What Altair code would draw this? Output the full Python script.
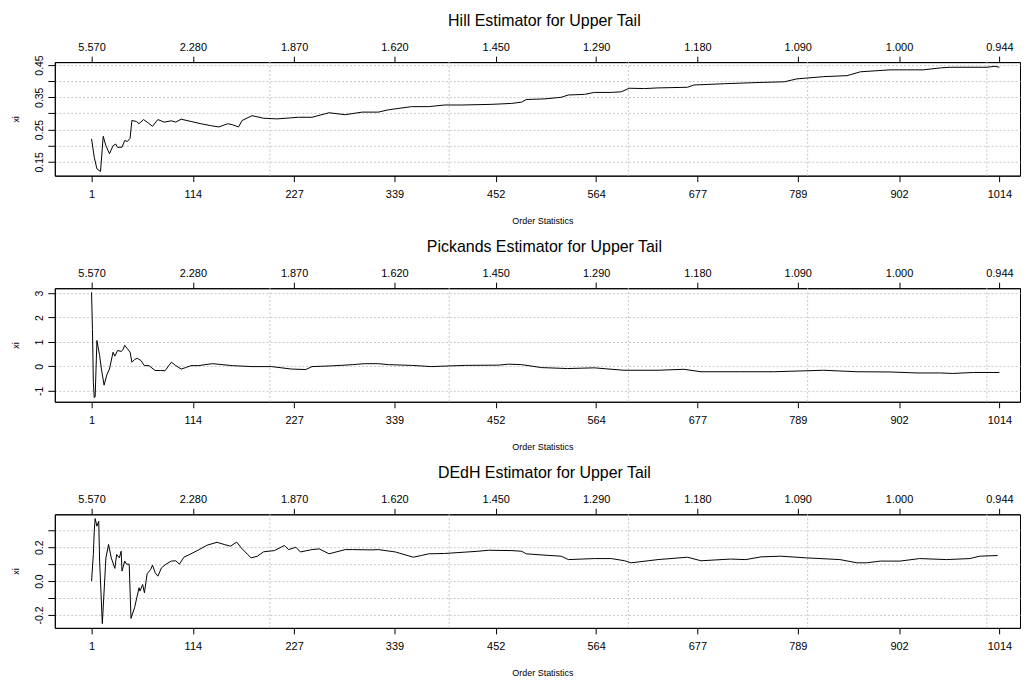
import altair as alt
import pandas as pd

FONT = "Liberation Sans"

# ---- axis tick positions / labels ----
tick_k = [1, 114, 227, 339, 452, 564, 677, 789, 902, 1014]
tick_thr = ["5.570", "2.280", "1.870", "1.620", "1.450", "1.290", "1.180", "1.090", "1.000", "0.944"]
grid_k = [200, 400, 600, 800, 1000]
x_domain = [-40, 1037]

# ---- Hill estimator ----
hill_k = [1, 4, 7, 11, 14, 17, 21, 25, 28, 30, 35, 38, 41, 44, 46, 51, 54, 59, 64, 69, 75, 82, 90, 95,
          101, 112, 123, 134, 143, 153, 158, 165, 169, 180, 193, 208, 232, 247, 266, 284, 303, 321,
          332, 358, 377, 395, 414, 447, 470, 481, 486, 507, 525, 533, 551, 562, 581, 592, 601, 618,
          633, 666, 673, 707, 748, 774, 788, 818, 844, 859, 892, 929, 948, 959, 1000, 1009, 1014]
hill_xi = [0.221, 0.164, 0.128, 0.120, 0.229, 0.200, 0.175, 0.200, 0.205, 0.195, 0.195, 0.216, 0.213,
           0.223, 0.278, 0.275, 0.268, 0.281, 0.271, 0.260, 0.281, 0.273, 0.277, 0.273, 0.282, 0.275,
           0.268, 0.262, 0.258, 0.268, 0.265, 0.258, 0.278, 0.293, 0.285, 0.283, 0.288, 0.288, 0.302,
           0.296, 0.304, 0.304, 0.311, 0.321, 0.321, 0.326, 0.326, 0.328, 0.331, 0.335, 0.343, 0.345,
           0.350, 0.357, 0.359, 0.365, 0.365, 0.367, 0.378, 0.377, 0.379, 0.381, 0.388, 0.392, 0.396,
           0.398, 0.407, 0.414, 0.417, 0.429, 0.435, 0.435, 0.441, 0.443, 0.443, 0.446, 0.443]
hill_ydom = [0.107, 0.459]
hill_yticks = [0.15, 0.20, 0.25, 0.30, 0.35, 0.40, 0.45]
hill_ylabels = [0.15, 0.25, 0.35, 0.45]

# ---- Pickands estimator ----
pick_k = [1, 2, 3, 4, 5, 7, 10, 12, 15, 18, 21, 25, 27, 30, 34, 36, 38, 41, 44, 46, 49, 52, 56, 60,
          65, 72, 78, 83, 90, 95, 101, 106, 112, 120, 136, 158, 180, 202, 224, 240, 247, 269, 292,
          306, 321, 332, 358, 380, 418, 455, 466, 481, 503, 532, 562, 595, 633, 662, 681, 725, 762,
          818, 855, 892, 922, 948, 962, 985, 1014]
pick_xi = [3.03, 1.50, -0.66, -1.28, -1.25, 1.06, 0.44, -0.11, -0.77, -0.35, -0.11, 0.58, 0.42, 0.65,
           0.61, 0.68, 0.86, 0.72, 0.58, 0.17, 0.28, 0.33, 0.24, 0.03, 0.03, -0.17, -0.17, -0.18, 0.17,
           0.03, -0.11, -0.05, 0.03, 0.03, 0.11, 0.03, -0.01, -0.01, -0.11, -0.13, -0.01, 0.02, 0.07,
           0.11, 0.11, 0.07, 0.04, -0.01, 0.04, 0.05, 0.09, 0.07, -0.05, -0.09, -0.06, -0.16, -0.16,
           -0.12, -0.22, -0.22, -0.22, -0.16, -0.22, -0.23, -0.27, -0.27, -0.29, -0.25, -0.25]
pick_ydom = [-1.45, 3.2]
pick_yticks = [-1, 0, 1, 2, 3]
pick_ylabels = [-1, 0, 1, 2, 3]

# ---- DEdH estimator ----
dedh_k = [1, 3, 4, 5, 7, 9, 10, 13, 15, 17, 20, 23, 27, 29, 32, 34, 35, 38, 40, 43, 45, 49, 54, 55,
          58, 60, 63, 67, 69, 72, 75, 79, 84, 90, 95, 99, 104, 112, 121, 130, 141, 149, 156, 163,
          168, 179, 186, 193, 205, 216, 221, 229, 234, 247, 255, 266, 284, 292, 314, 321, 340, 360,
          369, 377, 395, 418, 432, 444, 470, 481, 486, 507, 525, 533, 562, 581, 596, 603, 622, 633,
          666, 681, 714, 731, 748, 770, 799, 836, 855, 866, 881, 903, 925, 955, 981, 992, 1012]
dedh_xi = [0.0, 0.157, 0.294, 0.369, 0.324, 0.353, 0.118, -0.251, -0.059, 0.137, 0.216, 0.137, 0.075,
           0.157, 0.137, 0.176, 0.059, 0.118, 0.100, 0.100, -0.220, -0.157, -0.039, -0.059, -0.020,
           -0.069, 0.043, 0.069, 0.094, 0.049, 0.029, 0.078, 0.100, 0.118, 0.120, 0.100, 0.141, 0.161,
           0.186, 0.212, 0.229, 0.216, 0.206, 0.230, 0.196, 0.137, 0.147, 0.173, 0.180, 0.210, 0.186,
           0.200, 0.172, 0.186, 0.190, 0.161, 0.186, 0.186, 0.184, 0.186, 0.172, 0.141, 0.151, 0.161,
           0.163, 0.171, 0.176, 0.182, 0.180, 0.176, 0.161, 0.153, 0.147, 0.127, 0.133, 0.133, 0.120,
           0.108, 0.120, 0.127, 0.141, 0.120, 0.130, 0.127, 0.143, 0.147, 0.137, 0.127, 0.108, 0.108,
           0.118, 0.118, 0.133, 0.127, 0.133, 0.147, 0.151]
dedh_ydom = [-0.276, 0.394]
dedh_yticks = [-0.2, -0.1, 0.0, 0.1, 0.2, 0.3]
dedh_ylabels = [-0.2, 0.0, 0.2]

titles = ["Hill Estimator for Upper Tail", "Pickands Estimator for Upper Tail",
          "DEdH Estimator for Upper Tail"]

PW, PH = 969, 114

top_expr = " : ".join(
    f"datum.value == {k} ? '{t}'" for k, t in zip(tick_k, tick_thr)) + " : ''"


def panel(title, ks, xs_, ydom, yticks, ylabels, fmt):
    df = pd.DataFrame({"k": ks, "xi": xs_})
    xsc = alt.Scale(domain=x_domain, nice=False, zero=False)
    ysc = alt.Scale(domain=ydom, nice=False, zero=False)
    shown = "[" + ",".join(str(v) for v in ylabels) + "]"
    ylab_expr = (f"indexof({shown}, datum.value) >= 0 ? "
                 f"replace(format(datum.value, '{fmt}'), '\u2212', '-') : ''")

    grid = alt.Chart(pd.DataFrame({"k": grid_k})).mark_rule(
        color="#c8c8c8", strokeDash=[2, 2], strokeWidth=1
    ).encode(x=alt.X("k:Q", scale=xsc, axis=None))

    line = alt.Chart(df).mark_line(color="black", strokeWidth=1, clip=True).encode(
        x=alt.X("k:Q", scale=xsc, axis=alt.Axis(
            orient="bottom", values=tick_k, format="d", title="Order Statistics",
            grid=False, tickSize=6, labelPadding=7, labelFontSize=11, labelFont=FONT,
            labelColor="black", tickColor="black", domainColor="black",
            titleFontSize=9, titleFont=FONT, titleFontWeight="normal", titleColor="black",
            titlePadding=17, titleX=PW / 2 + 5, labelOverlap=False, labelFlush=False)),
        y=alt.Y("xi:Q", scale=ysc, axis=alt.Axis(
            values=yticks, labelExpr=ylab_expr, title="xi", grid=True, gridDash=[2, 2],
            gridColor="#c8c8c8", tickSize=7, labelAngle=270, labelAlign="center",
            labelBaseline="bottom", labelPadding=3, labelFontSize=10.5, labelFont=FONT,
            labelColor="black", tickColor="black", domainColor="black",
            titleFontSize=9, titleFont=FONT, titleFontWeight="normal", titleColor="black",
            titlePadding=14, labelOverlap=False)),
    )

    top = alt.Chart(pd.DataFrame({"k": tick_k, "thr": tick_thr})).mark_point(opacity=0).encode(
        x=alt.X("k:Q", scale=xsc, axis=alt.Axis(
            orient="top", values=tick_k, labelExpr=top_expr, title=None, grid=False,
            tickSize=6, labelPadding=4, labelFontSize=11, labelFont=FONT, labelColor="black",
            tickColor="black", domainColor="black", labelOverlap=False, labelFlush=False))
    )

    return alt.layer(grid, line, top).resolve_axis(x="independent").properties(
        width=PW, height=PH,
        title=alt.TitleParams(title, fontSize=16, font=FONT, fontWeight="normal", color="black",
                              anchor="middle", frame="group", dx=7, offset=12),
    )


p1 = panel(titles[0], hill_k, hill_xi, hill_ydom, hill_yticks, hill_ylabels, ".2f")
p2 = panel(titles[1], pick_k, pick_xi, pick_ydom, pick_yticks, pick_ylabels, "d")
p3 = panel(titles[2], dedh_k, dedh_xi, dedh_ydom, dedh_yticks, dedh_ylabels, ".1f")

chart = alt.vconcat(p1, p2, p3, spacing=12).properties(
    padding={"left": 3, "top": 3, "right": 3, "bottom": 0},
    background="white",
).configure_view(stroke="black", strokeWidth=1)

chart.save("out.html", embed_options={"renderer": "svg", "actions": False})
